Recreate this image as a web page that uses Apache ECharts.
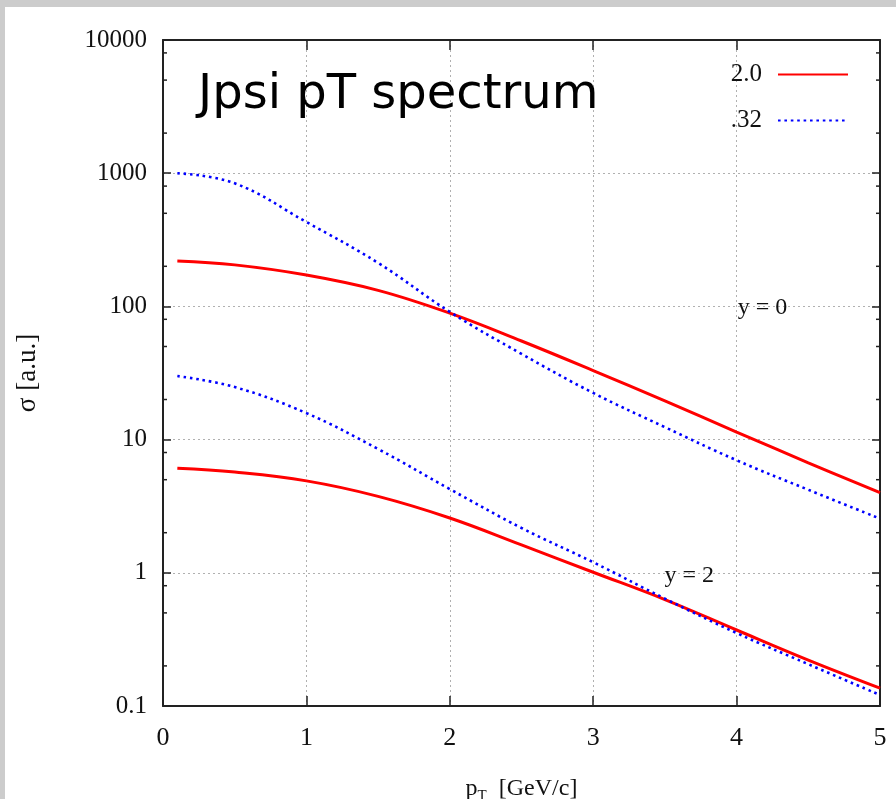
<!DOCTYPE html>
<html>
<head>
<meta charset="utf-8">
<script src="https://cdn.jsdelivr.net/npm/echarts@6/dist/echarts.min.js"></script>
<style>
  html, body { margin: 0; padding: 0; background: #cccccc; width: 896px; height: 799px; overflow: hidden; }
  #chart { position: absolute; left: 5px; top: 7px; width: 891px; height: 792px; background: #ffffff; }
</style>
</head>
<body>
<div id="chart"></div>
<script>
// ---- data ----
const pT = [0.1, 0.5, 1, 1.5, 2, 2.5, 3, 3.5, 4, 4.5, 5];
const red_y0  = [219, 205, 172, 132, 89, 55, 33, 19.5, 11.4, 6.7, 4.0];
const blue_y0 = [1000, 840, 430, 212, 91, 44, 22.4, 12.4, 7.0, 4.2, 2.55];
const red_y2  = [6.1, 5.7, 4.9, 3.75, 2.58, 1.62, 1.01, 0.63, 0.372, 0.221, 0.136];
const blue_y2 = [30, 24.8, 15.8, 8.5, 4.25, 2.17, 1.2, 0.64, 0.353, 0.206, 0.121];
const xTickLabels = ['0', '1', '2', '3', '4', '5'];
const yTickLabels = ['0.1', '1', '10', '100', '1000', '10000'];
const yMinorTicks = [0.2, 0.5, 0.8, 2, 5, 8, 20, 50, 80, 200, 500, 800, 2000, 5000, 8000];
const legendNames = ['2.0', '.32'];

const pairs = (ys) => pT.map((x, i) => [x, ys[i]]);
const serif = 'Liberation Serif, Times New Roman, serif';

const chart = echarts.init(document.getElementById('chart'), null, { renderer: 'canvas' });

const redStyle = { color: '#ff0000', width: 3, type: 'solid' };
const blueStyle = { color: '#0000ff', width: 2.6, type: [2.6, 3.8] };

const option = {
  animation: false,
  backgroundColor: '#ffffff',
  title: {
    text: 'Jpsi pT spectrum',
    left: 188, top: 60,
    textStyle: { fontFamily: 'DejaVu Sans', fontWeight: 'normal', fontSize: 48, color: '#000' }
  },
  legend: {
    data: legendNames,
    orient: 'vertical',
    right: 42, top: 50,
    align: 'right',
    itemWidth: 70, itemHeight: 14, itemGap: 21,
    itemStyle: { opacity: 0 },
    textStyle: { fontFamily: serif, fontSize: 25, color: '#111', padding: [0, 11, 0, 0] },
    selectedMode: false
  },
  grid: { left: 158, top: 33, right: 16, bottom: 93, containLabel: false, outerBoundsMode: 'none' },
  xAxis: [{
    type: 'value', min: 0, max: 5, interval: 1, position: 'bottom',
    name: '{p|p}{s|T}{p|  [GeV/c]}', nameLocation: 'middle', nameGap: 68,
    nameTextStyle: { rich: {
      p: { fontFamily: serif, fontSize: 24, color: '#111' },
      s: { fontFamily: serif, fontSize: 15, color: '#111', verticalAlign: 'bottom', padding: [15, 0, 0, 0] }
    }},
    axisLine: { show: true, onZero: false, lineStyle: { color: '#222', width: 2 } },
    axisTick: { show: true, inside: true, length: 10, lineStyle: { color: '#222', width: 1.5 } },
    axisLabel: { fontFamily: serif, fontSize: 26, color: '#111', margin: 19,
      formatter: (v) => xTickLabels[Math.round(v)] },
    splitLine: { show: true, lineStyle: { color: '#b0b0b0', type: [2, 3], width: 1 } }
  }, {
    type: 'value', min: 0, max: 5, interval: 1, position: 'top',
    axisLine: { show: true, onZero: false, lineStyle: { color: '#222', width: 2 } },
    axisTick: { show: true, inside: true, length: 10, lineStyle: { color: '#222', width: 1.5 } },
    axisLabel: { show: false }, splitLine: { show: false }
  }],
  yAxis: [{
    type: 'log', logBase: 10, min: 0.1, max: 10000, position: 'left',
    name: 'σ [a.u.]', nameLocation: 'middle', nameGap: 122, nameRotate: 90,
    nameTextStyle: { fontFamily: serif, fontSize: 27, color: '#111' },
    axisLine: { show: true, onZero: false, lineStyle: { color: '#222', width: 2 } },
    axisTick: { show: true, inside: true, length: 8, lineStyle: { color: '#222', width: 1.5 } },
    axisLabel: { fontFamily: serif, fontSize: 25, color: '#111', margin: 16,
      formatter: (v) => yTickLabels[Math.round(Math.log10(v)) + 1] },
    splitLine: { show: true, lineStyle: { color: '#b0b0b0', type: [2, 3], width: 1 } }
  }, {
    type: 'log', logBase: 10, min: 0.1, max: 10000, position: 'right',
    axisLine: { show: true, onZero: false, lineStyle: { color: '#222', width: 2 } },
    axisTick: { show: true, inside: true, length: 8, lineStyle: { color: '#222', width: 1.5 } },
    axisLabel: { show: false }, splitLine: { show: false }
  }],
  series: [
    { name: '2.0', type: 'line', data: pairs(red_y0), smooth: 0.4, symbol: 'none', lineStyle: redStyle, itemStyle: { color: '#ff0000' }, z: 3,
      markPoint: { symbol: 'circle', symbolSize: 0, silent: true,
        label: { show: true, formatter: 'y = 0', fontFamily: serif, fontSize: 24, color: '#111' },
        data: [{ coord: [4.18, 97] }] } },
    { name: '.32', type: 'line', data: pairs(blue_y0), smooth: 0.4, symbol: 'none', lineStyle: blueStyle, itemStyle: { color: '#0000ff' }, z: 4 },
    { name: '2.0', type: 'line', data: pairs(red_y2), smooth: 0.4, symbol: 'none', lineStyle: redStyle, itemStyle: { color: '#ff0000' }, z: 3,
      markPoint: { symbol: 'circle', symbolSize: 0, silent: true,
        label: { show: true, formatter: 'y = 2', fontFamily: serif, fontSize: 24, color: '#111' },
        data: [{ coord: [3.67, 0.95] }] } },
    { name: '.32', type: 'line', data: pairs(blue_y2), smooth: 0.4, symbol: 'none', lineStyle: blueStyle, itemStyle: { color: '#0000ff' }, z: 4 },
    { name: 'minorTicks', type: 'custom', silent: true, z: 5,
      data: yMinorTicks.map(v => [0, v]),
      renderItem: (params, api) => {
        const v = api.value(1);
        const a = api.coord([0, v]);
        const b = api.coord([5, v]);
        const st = { stroke: '#222', lineWidth: 1.5 };
        return { type: 'group', children: [
          { type: 'line', shape: { x1: a[0], y1: a[1], x2: a[0] + 4, y2: a[1] }, style: st },
          { type: 'line', shape: { x1: b[0] - 4, y1: b[1], x2: b[0], y2: b[1] }, style: st }
        ]};
      } }
  ]
};
chart.setOption(option);
</script>
</body>
</html>
